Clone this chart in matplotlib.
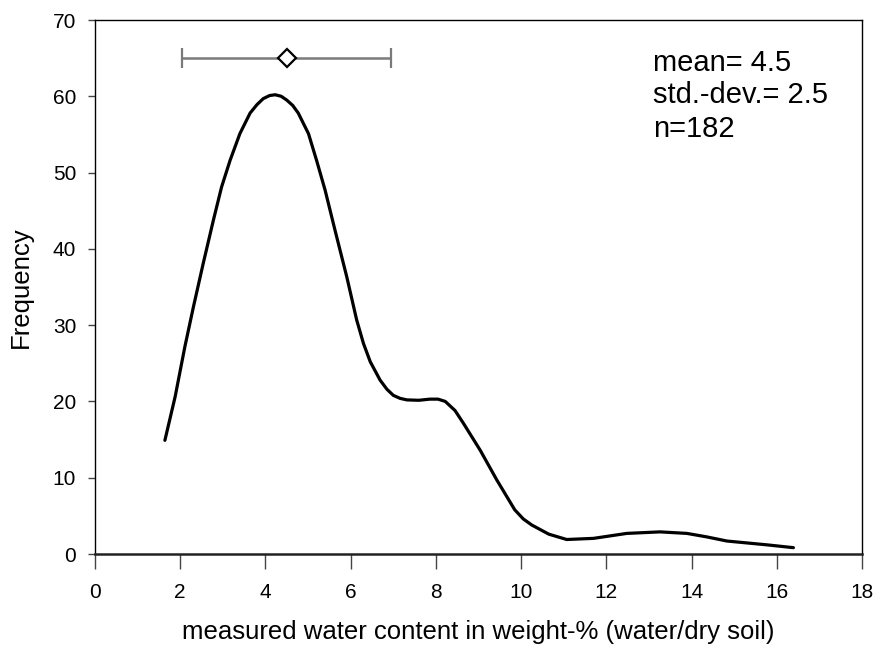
import matplotlib
matplotlib.use("Agg")
import matplotlib.pyplot as plt

plt.rcParams['font.family'] = ['Liberation Sans', 'DejaVu Sans']

# Curve (water content %, frequency)
water = [1.64, 1.88, 2.11, 2.31, 2.54, 2.78, 2.97, 3.17, 3.40, 3.64, 3.80, 3.95, 4.10,
         4.23, 4.37, 4.50, 4.64, 4.77, 5.01, 5.20, 5.40, 5.63, 5.91, 6.14, 6.30, 6.46,
         6.69, 6.85, 7.00, 7.16, 7.32, 7.60, 7.86, 8.05, 8.22, 8.45, 8.65, 9.04, 9.43, 9.85,
         10.05, 10.25, 10.65, 11.07, 11.70, 12.48, 13.26, 13.89, 14.35, 14.83, 15.77, 16.39]
freq = [14.9, 20.6, 27.2, 32.4, 38.1, 43.8, 48.1, 51.6, 55.1, 57.8, 58.9, 59.7, 60.1,
        60.2, 60.0, 59.5, 58.8, 57.8, 55.1, 51.6, 47.7, 42.5, 36.3, 30.7, 27.6, 25.2,
        22.8, 21.6, 20.8, 20.4, 20.2, 20.15, 20.3, 20.3, 20.0, 18.8, 17.1, 13.6, 9.7, 5.8,
        4.6, 3.8, 2.6, 1.9, 2.05, 2.7, 2.9, 2.7, 2.25, 1.7, 1.2, 0.83]

mean_val = 4.5
sd_val = 2.45
bar_y = 65
stats_lines = ["mean= 4.5", "std.-dev.= 2.5", "n=182"]

xticks = list(range(0, 19, 2))
yticks = list(range(0, 71, 10))

fig = plt.figure(figsize=(8.77, 6.51), dpi=100)
W, H = 877, 651
ax = fig.add_axes([95 / W, (H - 554) / H, (862 - 95) / W, (554 - 20) / H])

ax.plot(water, freq, color='black', lw=2.3, solid_joinstyle='round',
        solid_capstyle='round')

eb = ax.errorbar([mean_val], [bar_y], xerr=[sd_val], fmt='D', ms=9.5,
                 mfc='white', mec='black', mew=1.6, ecolor='#7a7a7a',
                 elinewidth=1.8, capsize=7.5, capthick=1.3, zorder=5)
for cl in eb[1]:
    cl.set_color('black')

ax.set_xlim(0, 18)
ax.set_ylim(0, 70)
ax.set_xticks(xticks)
ax.set_yticks(yticks)
ax.tick_params(axis='x', direction='out', length=10.5, width=1.0,
               color='#444444', labelsize=15, pad=10.5)
ax.tick_params(axis='y', direction='out', length=5, width=1.0,
               color='#444444', labelsize=15, pad=8.5)

for side in ['left', 'top', 'right']:
    ax.spines[side].set_linewidth(1.0)
    ax.spines[side].set_color('black')
ax.spines['bottom'].set_linewidth(1.8)
ax.spines['bottom'].set_color('#222222')

ax.set_xlabel("measured water content in weight-% (water/dry soil)", fontsize=18.5)
ax.set_ylabel("Frequency", fontsize=18.5)
ax.xaxis.set_label_coords(0.5, (554 - 620) / 534)
ax.yaxis.set_label_coords((33 - 95) / 767, 0.5)

baselines_px = [71, 103, 137]
for line, by in zip(stats_lines, baselines_px):
    ax.text((652.7 - 95) / 767, (554 - by) / 534, line, transform=ax.transAxes,
            fontsize=21, ha='left', va='baseline')

fig.savefig("out.png", dpi=100)
